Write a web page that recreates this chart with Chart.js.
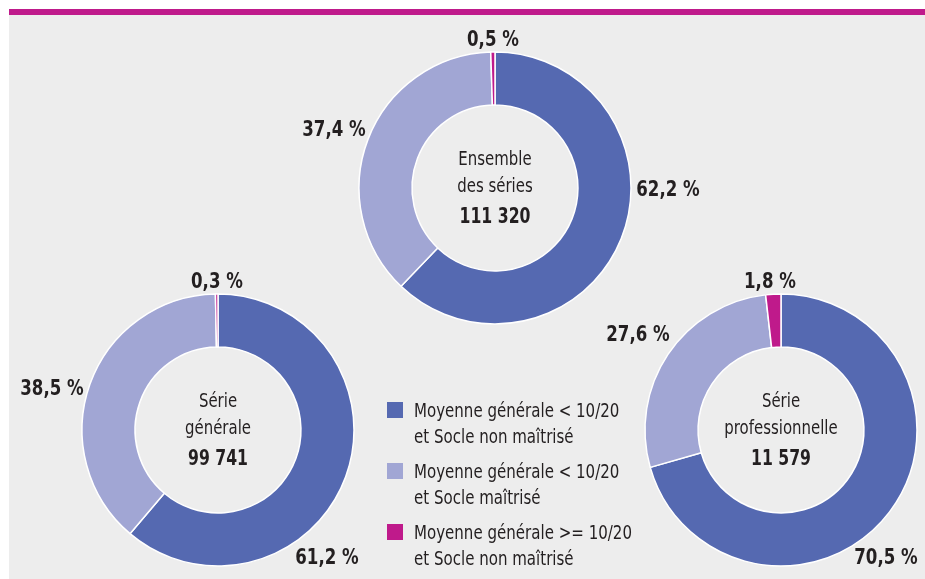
<!DOCTYPE html>
<html>
<head>
<meta charset="utf-8">
<script src="https://cdn.jsdelivr.net/npm/chart.js@4"></script>
<style>
  html, body { margin: 0; padding: 0; background: #fff; }
  body { width: 925px; height: 579px; position: relative; overflow: hidden;
         font-family: "Liberation Sans Narrow", "DejaVu Sans Condensed", "Roboto", sans-serif; }
  #topline { position: absolute; left: 9px; top: 9px; width: 916px; height: 6px; background: #bf1a8b; }
  #panel { position: absolute; left: 9px; top: 15px; width: 916px; height: 564px; background: #ededed; }
  canvas { position: absolute; }
  .lbl { position: absolute; transform: translate(-50%, -50%) scaleX(0.84); font-weight: bold; font-size: 22px;
         color: #231f20; white-space: nowrap; }
  .center { position: absolute; transform: translate(-50%, -50%) scaleX(0.83); text-align: center; font-size: 20px;
            color: #231f20; line-height: 27px; white-space: nowrap; }
  .center b { display: block; margin-top: 4px; font-size: 21px; }
  .leg { position: absolute; left: 387px; font-size: 19px; color: #231f20; line-height: 26px; }
  .leg span.sq { position: absolute; left: 0; top: 5px; width: 16px; height: 16px; }
  .leg div { margin-left: 27px; white-space: nowrap; transform: scaleX(0.88); transform-origin: left center; }
</style>
</head>
<body>
<div id="topline"></div>
<div id="panel"></div>
<canvas id="cEns" width="300" height="300"></canvas>
<canvas id="cGen" width="300" height="300"></canvas>
<canvas id="cPro" width="300" height="300"></canvas>
<div id="overlay"></div>
<script>
// data
const categories = [
  ['Moyenne générale < 10/20', 'et Socle non maîtrisé'],
  ['Moyenne générale < 10/20', 'et Socle maîtrisé'],
  ['Moyenne générale >= 10/20', 'et Socle non maîtrisé']
];
const ensembleValues = [62.2, 37.4, 0.5];
const generaleValues = [61.2, 38.5, 0.3];
const proValues = [70.5, 27.6, 1.8];
const seriesNames = [['Ensemble', 'des séries'], ['Série', 'générale'], ['Série', 'professionnelle']];
const totals = ['111 320', '99 741', '11 579'];

const colors = ['#5569b1', '#a1a6d4', '#bf1a8b'];

// layout: donut centre and where the percentage labels sit
const charts = [
  { id: 'cEns', values: ensembleValues, cx: 495, cy: 188, labels: [[668, 188], [334, 128], [493, 38]] },
  { id: 'cGen', values: generaleValues, cx: 218, cy: 430, labels: [[327, 556], [52, 387], [217, 280]] },
  { id: 'cPro', values: proValues, cx: 781, cy: 430, labels: [[886, 556], [638, 333], [770, 280]] }
];

function fmt(v) {
  return v.toFixed(1).replace('.', ',') + ' %';
}

var overlay = document.getElementById('overlay');

charts.forEach(function (c, i) {
  var cv = document.getElementById(c.id);
  cv.style.left = (c.cx - 150) + 'px';
  cv.style.top = (c.cy - 150) + 'px';
  new Chart(cv, {
    type: 'doughnut',
    data: {
      labels: categories.map(function (l) { return l.join(' '); }),
      datasets: [{
        data: c.values,
        backgroundColor: colors,
        borderColor: '#ffffff',
        borderWidth: 1.5
      }]
    },
    options: {
      responsive: false,
      animation: false,
      radius: 136,
      cutout: '61%',
      layout: { padding: 0 },
      plugins: { legend: { display: false }, tooltip: { enabled: false } }
    }
  });

  c.values.forEach(function (v, j) {
    var d = document.createElement('div');
    d.className = 'lbl';
    d.textContent = fmt(v);
    d.style.left = c.labels[j][0] + 'px';
    d.style.top = c.labels[j][1] + 'px';
    overlay.appendChild(d);
  });

  var t = document.createElement('div');
  t.className = 'center';
  t.innerHTML = seriesNames[i].join('<br>') + '<b>' + totals[i] + '</b>';
  t.style.left = c.cx + 'px';
  t.style.top = (c.cy - 1) + 'px';
  overlay.appendChild(t);
});

// legend
var legTops = [397, 458, 519];
categories.forEach(function (lines, k) {
  var g = document.createElement('div');
  g.className = 'leg';
  g.style.top = legTops[k] + 'px';
  g.innerHTML = '<span class="sq" style="background:' + colors[k] + '"></span>' +
    '<div>' + lines[0].replace('<', '&lt;').replace('>', '&gt;') + '</div><div>' + lines[1] + '</div>';
  overlay.appendChild(g);
});
</script>
</body>
</html>
